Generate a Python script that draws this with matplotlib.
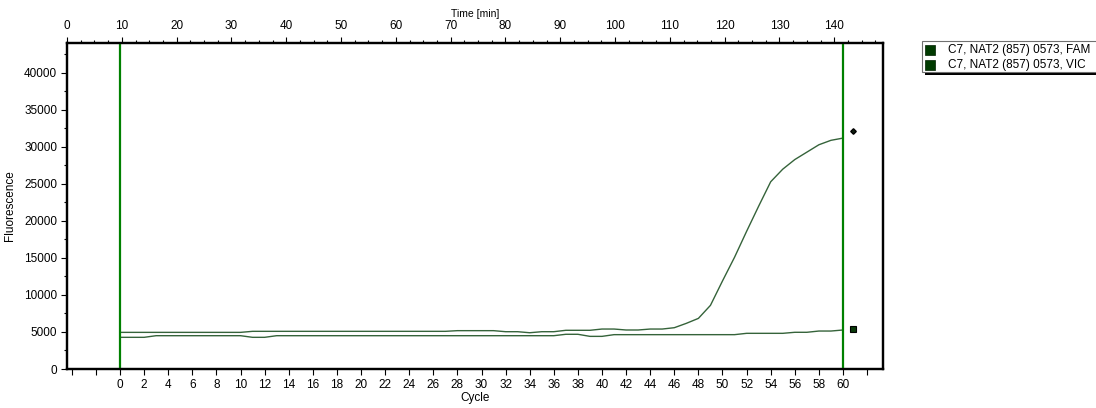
import matplotlib
matplotlib.use('Agg')
import matplotlib.pyplot as plt
from matplotlib.patches import Rectangle
from matplotlib.ticker import MultipleLocator, FixedLocator, NullFormatter

plt.rcParams['font.family'] = ['Liberation Sans', 'DejaVu Sans']

# ---------------- data ----------------
cycles = list(range(61))
fam = [4950, 4950, 4950, 4950, 4950, 4950, 4950, 4950, 4950, 4950, 4950,
       5090, 5090, 5090, 5090, 5090, 5090, 5090, 5090, 5090, 5090, 5090,
       5090, 5090, 5090, 5090, 5090, 5090,
       5180, 5180, 5180, 5180,
       5040, 5040, 4900, 5040, 5040,
       5230, 5230, 5230, 5400, 5400, 5270, 5270, 5400, 5400,
       5580, 6170, 6840, 8600, 11900, 15100, 18600, 22000, 25300,
       27000, 28300, 29300, 30300, 30900, 31200]
vic = [4280, 4280, 4280,
       4500, 4500, 4500, 4500, 4500, 4500, 4500, 4500,
       4280, 4280,
       4500, 4500, 4500, 4500, 4500, 4500, 4500, 4500, 4500, 4500, 4500, 4500,
       4500, 4500, 4500, 4500, 4500, 4500, 4500, 4500, 4500, 4500, 4500, 4500,
       4690, 4690, 4410, 4410,
       4640, 4640, 4640, 4640, 4640, 4640, 4640, 4640, 4640, 4640, 4640,
       4820, 4820, 4820, 4820, 4960, 4960, 5130, 5130, 5270]
series_labels = ["C7, NAT2 (857) 0573, FAM", "C7, NAT2 (857) 0573, VIC"]
end_marker_cycle = 60.8
end_marker_values = [32200, 5400]
window_cycles = [0, 60]
cycle_ticks = list(range(0, 61, 2))
time_ticks = list(range(0, 141, 10))

W, H = 1096, 408
fig = plt.figure(figsize=(W / 100, H / 100), dpi=100)
fig.patch.set_facecolor('white')

def fx(px):
    return px / W

def fy(py):
    return 1 - py / H

ax = fig.add_axes([fx(67), fy(369), fx(883) - fx(67), fy(43) - fy(369)])

line_color = '#35633a'
ax.plot(cycles, fam, color=line_color, lw=1.0, zorder=3)
ax.plot(cycles, vic, color=line_color, lw=1.0, zorder=3)

for c in window_cycles:
    ax.axvline(c, color='#008000', lw=1.6, zorder=4)

ax.plot([end_marker_cycle], [end_marker_values[0]], marker='D', ms=2.8,
        color='#102010', mec='black', ls='none', zorder=5)
ax.plot([end_marker_cycle], [end_marker_values[1]], marker='s', ms=4.2,
        color='#0a3a0a', mec='black', mew=0.8, ls='none', zorder=5)

ax.set_xlim(-4.40, 63.32)
ax.set_ylim(0, 44050)

ax.xaxis.set_major_locator(FixedLocator(cycle_ticks))
ax.xaxis.set_minor_locator(FixedLocator([-4, -2, 62]))
ax.xaxis.set_minor_formatter(NullFormatter())
ax.yaxis.set_major_locator(MultipleLocator(5000))
ax.yaxis.set_minor_locator(MultipleLocator(2500))

fs = 8.5
ax.tick_params(axis='both', which='both', direction='out', colors='black',
               labelsize=fs, width=0.8)
ax.tick_params(axis='x', which='both', length=4, pad=3)
ax.tick_params(axis='y', which='major', length=4, pad=3)
ax.tick_params(axis='y', which='minor', length=2)

for s in ax.spines.values():
    s.set_linewidth(1.6)
    s.set_color('black')

ax.set_xlabel('Cycle', fontsize=fs, labelpad=1)
ax.set_ylabel('Fluorescence', fontsize=fs, labelpad=6)

ax2 = ax.twiny()
ax2.set_xlim(-0.001, 148.9)
ax2.xaxis.set_major_locator(FixedLocator(time_ticks))
ax2.xaxis.set_minor_locator(MultipleLocator(2.5))
ax2.tick_params(axis='x', which='major', direction='out', length=4, pad=4,
                labelsize=fs, width=0.8)
ax2.tick_params(axis='x', which='minor', direction='out', length=2, width=0.8)
for s in ax2.spines.values():
    s.set_linewidth(1.6)
    s.set_color('black')
ax2.set_xlabel('Time [min]', fontsize=7.5, labelpad=2)

# ---------------- legend (drawn as in the reference) ----------------
shadow = Rectangle((fx(925), fy(75)), fx(1100) - fx(925), fy(44) - fy(75),
                   transform=fig.transFigure, facecolor='black',
                   edgecolor='none', zorder=1)
box = Rectangle((fx(921.5), fy(72)), fx(1100) - fx(921.5), fy(41.5) - fy(72),
                transform=fig.transFigure, facecolor='white',
                edgecolor='#707070', lw=0.8, zorder=2)
fig.add_artist(shadow)
fig.add_artist(box)
for i, lab in enumerate(series_labels):
    yc = 50 + i * 15
    sq = Rectangle((fx(925), fy(yc + 5)), fx(935) - fx(925), fy(yc - 5) - fy(yc + 5),
                   transform=fig.transFigure, facecolor='#003a00',
                   edgecolor='#002000', lw=0.5, zorder=3)
    fig.add_artist(sq)
    fig.text(fx(948), fy(yc), lab, fontsize=fs, va='center', ha='left', zorder=4)

fig.savefig('out.png', dpi=100, facecolor='white')
